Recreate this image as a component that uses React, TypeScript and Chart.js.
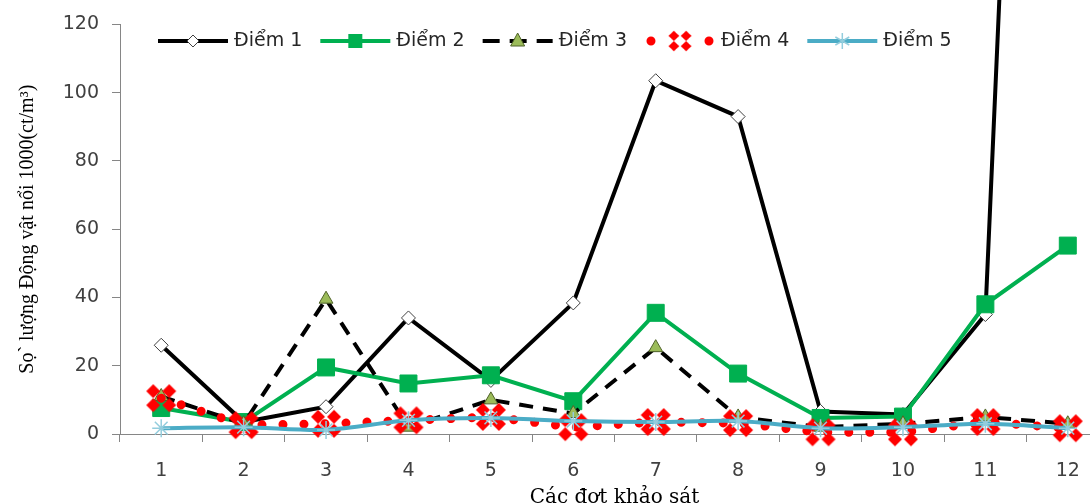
import React, { useEffect, useRef } from 'react';
import { Chart, registerables } from 'chart.js';

Chart.register(...registerables);

const categories = ['1', '2', '3', '4', '5', '6', '7', '8', '9', '10', '11', '12'];
const seriesNames = ['Điểm 1', 'Điểm 2', 'Điểm 3', 'Điểm 4', 'Điểm 5'];
const diem1 = [26, 3.5, 8, 34, 15.7, 38.4, 103.5, 93, 6.6, 5.7, 35, 580];
const diem2 = [7.6, 3.5, 19.5, 14.8, 17.2, 9.6, 35.5, 17.7, 4.7, 5.1, 38, 55.2];
const diem3 = [11, 3, 39.5, 2, 10, 6, 25.3, 5, 2, 3, 5, 3];
const diem4 = [10.5, 2.6, 3, 4, 5, 2, 3.5, 3.2, 0.5, 0.5, 3.5, 1.7];
const diem5 = [1.7, 2, 1.2, 4, 4.7, 3.8, 3.5, 3.8, 1.7, 2, 3, 1.7];
const yTitle = 'Sọ` lượng Động vật nổi 1000(ct/m³)';
const xTitle = 'Các đợt khảo sát';

function makeClusterMarker(): HTMLCanvasElement {
  const c = document.createElement('canvas');
  c.width = 34;
  c.height = 30;
  const ctx = c.getContext('2d')!;
  ctx.fillStyle = '#FF0000';
  const h = 7;
  const pts = [
    [17 - 8, 15 - 7],
    [17 + 8, 15 - 7],
    [17 - 8, 15 + 7],
    [17 + 8, 15 + 7],
  ];
  for (const [x, y] of pts) {
    ctx.beginPath();
    ctx.moveTo(x, y - h);
    ctx.lineTo(x + h, y);
    ctx.lineTo(x, y + h);
    ctx.lineTo(x - h, y);
    ctx.closePath();
    ctx.fill();
  }
  return c;
}

export default function App() {
  const ref = useRef<HTMLCanvasElement>(null);

  useEffect(() => {
    const canvas = ref.current!;
    const marker4 = makeClusterMarker();

    const legendPlugin = {
      id: 'customLegend',
      afterDraw(chart: any) {
        const ctx = chart.ctx as CanvasRenderingContext2D;
        const y = 41;
        let x = 158;
        ctx.save();
        ctx.font = '19px "DejaVu Sans"';
        ctx.textBaseline = 'middle';
        ctx.textAlign = 'left';
        seriesNames.forEach((name, i) => {
          const x0 = x;
          const x1 = x + 70;
          const mx = (x0 + x1) / 2;
          ctx.save();
          ctx.lineCap = 'butt';
          if (i === 0) {
            ctx.strokeStyle = '#000';
            ctx.lineWidth = 4;
          } else if (i === 1) {
            ctx.strokeStyle = '#00B050';
            ctx.lineWidth = 4;
          } else if (i === 2) {
            ctx.strokeStyle = '#000';
            ctx.lineWidth = 4;
            ctx.setLineDash([17, 10]);
          } else if (i === 3) {
            ctx.strokeStyle = '#FF0000';
            ctx.lineWidth = 9;
            ctx.lineCap = 'round';
            ctx.setLineDash([0.01, 58]);
          } else {
            ctx.strokeStyle = '#4BACC6';
            ctx.lineWidth = 4;
          }
          ctx.beginPath();
          ctx.moveTo(x0 + (i === 3 ? 6 : 0), y);
          ctx.lineTo(x1, y);
          ctx.stroke();
          ctx.restore();

          ctx.save();
          if (i === 0) {
            ctx.fillStyle = '#fff';
            ctx.strokeStyle = '#404040';
            ctx.lineWidth = 1;
            const r = 6;
            ctx.beginPath();
            ctx.moveTo(mx, y - r);
            ctx.lineTo(mx + r, y);
            ctx.lineTo(mx, y + r);
            ctx.lineTo(mx - r, y);
            ctx.closePath();
            ctx.fill();
            ctx.stroke();
          } else if (i === 1) {
            ctx.fillStyle = '#00B050';
            ctx.fillRect(mx - 7, y - 7, 14, 14);
          } else if (i === 2) {
            ctx.fillStyle = '#9BBB59';
            ctx.strokeStyle = '#4F6228';
            ctx.lineWidth = 1;
            ctx.beginPath();
            ctx.moveTo(mx, y - 8);
            ctx.lineTo(mx + 7, y + 5);
            ctx.lineTo(mx - 7, y + 5);
            ctx.closePath();
            ctx.fill();
            ctx.stroke();
          } else if (i === 3) {
            ctx.drawImage(marker4, mx - 13, y - 11, 26, 22);
          } else {
            ctx.strokeStyle = '#93CDDD';
            ctx.lineWidth = 1.5;
            const r = 8;
            ctx.beginPath();
            ctx.moveTo(mx, y - r);
            ctx.lineTo(mx, y + r);
            ctx.moveTo(mx - r * 0.87, y - r * 0.5);
            ctx.lineTo(mx + r * 0.87, y + r * 0.5);
            ctx.moveTo(mx - r * 0.87, y + r * 0.5);
            ctx.lineTo(mx + r * 0.87, y - r * 0.5);
            ctx.stroke();
          }
          ctx.restore();

          ctx.fillStyle = '#262626';
          const tx = x1 + 6;
          ctx.fillText(name, tx, y);
          const w = ctx.measureText(name).width;
          x = tx + w + 18;
        });
        ctx.restore();
      },
    };

    const tickFont = { family: '"DejaVu Sans"', size: 19 };

    const chart = new Chart(canvas, {
      type: 'line',
      data: {
        labels: categories,
        datasets: [
          {
            label: seriesNames[0],
            data: diem1,
            borderColor: '#000000',
            borderWidth: 4,
            pointStyle: 'rectRot',
            pointRadius: 7,
            pointBackgroundColor: '#ffffff',
            pointBorderColor: '#404040',
            pointBorderWidth: 1,
            order: 5,
            clip: false,
          },
          {
            label: seriesNames[1],
            data: diem2,
            borderColor: '#00B050',
            borderWidth: 4,
            pointStyle: 'rect',
            pointRadius: 12,
            pointBackgroundColor: '#00B050',
            pointBorderColor: '#00B050',
            pointBorderWidth: 1,
            order: 4,
            clip: false,
          },
          {
            label: seriesNames[2],
            data: diem3,
            borderColor: '#000000',
            borderWidth: 4,
            borderDash: [14, 10],
            pointStyle: 'triangle',
            pointRadius: 8,
            pointBackgroundColor: '#9BBB59',
            pointBorderColor: '#4F6228',
            pointBorderWidth: 1,
            order: 3,
            clip: false,
          },
          {
            label: seriesNames[3],
            data: diem4,
            borderColor: '#FF0000',
            borderWidth: 9,
            borderDash: [0.01, 21],
            borderCapStyle: 'round',
            pointStyle: marker4 as any,
            pointRadius: 12,
            order: 2,
            clip: false,
          },
          {
            label: seriesNames[4],
            data: diem5,
            borderColor: '#4BACC6',
            borderWidth: 4,
            pointStyle: 'star',
            pointRadius: 9,
            pointBorderColor: '#93CDDD',
            pointBackgroundColor: '#93CDDD',
            pointBorderWidth: 1.5,
            tension: 0.3,
            order: 1,
            clip: false,
          },
        ] as any,
      },
      options: {
        responsive: false,
        animation: false,
        layout: { padding: { top: 21, right: 14, left: 0, bottom: 0 } },
        plugins: {
          legend: { display: false },
          tooltip: { enabled: false },
        },
        scales: {
          x: {
            type: 'category',
            offset: true,
            grid: {
              offset: true,
              drawOnChartArea: false,
              drawTicks: true,
              tickLength: 8,
              color: '#868686',
            },
            border: { color: '#868686' },
            ticks: { font: tickFont, color: '#404040', padding: 18, maxRotation: 0 },
            title: {
              display: true,
              text: xTitle,
              font: { family: '"DejaVu Serif"', size: 20 },
              color: '#000000',
              padding: { top: 0, bottom: 10 },
            },
            afterFit: (s: any) => {
              s.height = 86;
            },
          },
          y: {
            min: 0,
            max: 120,
            ticks: { stepSize: 20, font: tickFont, color: '#404040', padding: 13 },
            grid: { drawOnChartArea: false, tickLength: 8, color: '#868686' },
            border: { color: '#868686' },
            title: {
              display: true,
              text: yTitle,
              font: { family: '"Liberation Serif"', size: 20 },
              color: '#000000',
              padding: { top: 16, bottom: 0 },
            },
            afterFit: (s: any) => {
              s.width = 120;
            },
          },
        },
      } as any,
      plugins: [legendPlugin],
    });

    return () => chart.destroy();
  }, []);

  return (
    <div
      style={{
        position: 'fixed',
        left: 0,
        top: 0,
        width: 1090,
        height: 504,
        overflow: 'hidden',
        background: '#ffffff',
      }}
    >
      <div style={{ width: 1130, height: 520 }}>
        <canvas ref={ref} width={1130} height={520} style={{ display: 'block' }} />
      </div>
    </div>
  );
}
